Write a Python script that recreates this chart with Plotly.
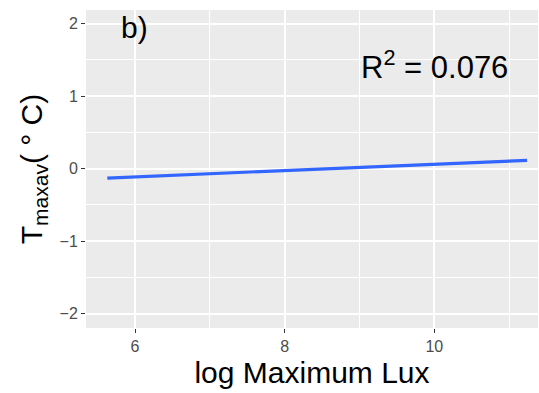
import plotly.graph_objects as go

# Fitted line endpoints (log Maximum Lux vs T_maxav)
fit_x = [5.63, 11.24]
fit_y = [-0.13, 0.115]

x_ticks = [6, 8, 10]
x_ticklabels = ["6", "8", "10"]
y_ticks = [-2, -1, 0, 1, 2]
y_ticklabels = ["\u22122", "\u22121", "0", "1", "2"]

panel_label = "b)"
r2_text = "R<sup>2</sup> = 0.076"

FONT = "Liberation Sans, Arial, Helvetica, sans-serif"

fig = go.Figure()
fig.add_trace(go.Scatter(x=fit_x, y=fit_y, mode="lines",
                         line=dict(color="#3366FF", width=3.2), showlegend=False,
                         hoverinfo="skip"))

axis_common = dict(
    showline=False, zeroline=False, showgrid=True, automargin=False,
    gridcolor="white", gridwidth=1.6,
    ticks="outside", ticklen=4, tickwidth=1.1, tickcolor="#333333",
    tickfont=dict(family=FONT, size=16, color="#4D4D4D"),
)

fig.update_layout(
    width=539, height=393,
    margin=dict(l=86, r=1, t=10, b=65, autoexpand=False),
    paper_bgcolor="white", plot_bgcolor="#EBEBEB",
    font=dict(family=FONT),
    xaxis=dict(range=[5.345, 11.386], tickvals=x_ticks, ticktext=x_ticklabels,
               minor=dict(tickvals=[7, 9, 11], showgrid=True, gridcolor="white",
                          gridwidth=0.8, ticks=""),
               title=dict(text="log Maximum Lux", font=dict(family=FONT, size=30, color="black"),
                          standoff=7),
               **axis_common),
    yaxis=dict(range=[-2.2, 2.19], tickvals=y_ticks, ticktext=y_ticklabels,
               minor=dict(tickvals=[-1.5, -0.5, 0.5, 1.5], showgrid=True, gridcolor="white",
                          gridwidth=0.8, ticks=""),
               title=dict(text="T<sub>maxav</sub>( \u00b0 C)", font=dict(family=FONT, size=30, color="black"),
                          standoff=8),
               **axis_common),
    annotations=[
        dict(text=panel_label, x=5.99, y=1.95, xref="x", yref="y", showarrow=False,
             font=dict(family=FONT, size=30, color="black"), xanchor="center", yanchor="middle"),
        dict(text=r2_text, x=10.0, y=1.43, xref="x", yref="y", showarrow=False,
             font=dict(family=FONT, size=31, color="black"), xanchor="center", yanchor="middle"),
    ],
)
fig.write_html("out.html", config={"displayModeBar": False},
               post_script="document.body.style.margin='0';document.body.style.overflow='hidden';")
